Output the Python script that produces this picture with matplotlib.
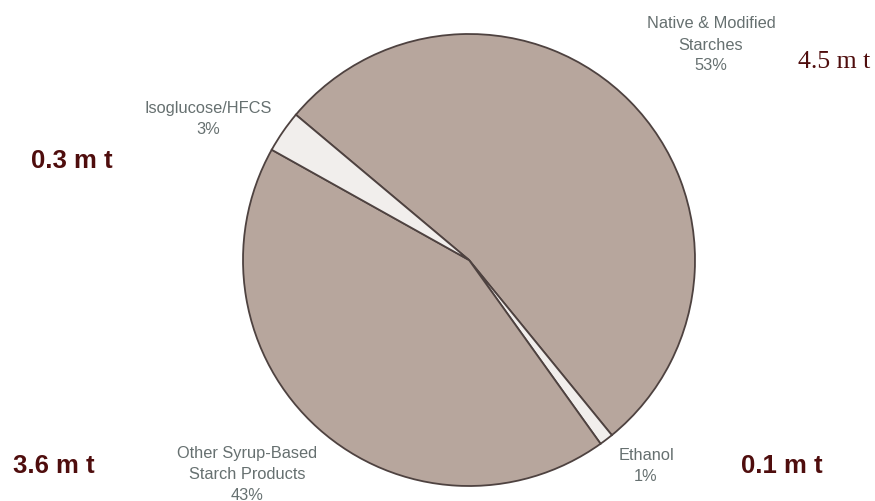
import matplotlib
matplotlib.use("Agg")
import matplotlib.pyplot as plt

categories = ["Native & Modified\nStarches", "Ethanol", "Other Syrup-Based\nStarch Products", "Isoglucose/HFCS"]
shares = [53, 1, 43, 3]
tonnage = ["4.5 m t", "0.1 m t", "3.6 m t", "0.3 m t"]

W, H = 875, 502
fig = plt.figure(figsize=(W / 100, H / 100), dpi=100)
ax = fig.add_axes([0, 0, 1, 1])

fill = "#b7a69d"
light = "#f1eeec"
colors = [fill, light, fill, light]
ax.pie(shares, colors=colors, startangle=140, counterclock=False,
       center=(469, H - 261), radius=226, frame=True,
       wedgeprops=dict(edgecolor="#4e4240", linewidth=1.3))
ax.set_xlim(0, W)
ax.set_ylim(0, H)
ax.set_aspect("equal")
ax.axis("off")

label_color = "#667070"
lab_pos = [(711, 45), (646, 466), (247, 475), (208, 119)]
for cat, s, (x, y) in zip(categories, shares, lab_pos):
    ax.text(x, H - y, f"{cat}\n{s}%", ha="center", va="center",
            fontsize=11.8, family="Liberation Sans", color=label_color,
            linespacing=1.5)

mt_color = "#4f0d0d"
mt_pos = [(834, 62), (782, 466), (54, 466), (72, 161)]
for i, (t, (x, y)) in enumerate(zip(tonnage, mt_pos)):
    if i == 0:
        ax.text(x, H - y, t, ha="center", va="center", fontsize=18.5,
                family="Liberation Serif", color=mt_color)
    else:
        ax.text(x, H - y, t, ha="center", va="center", fontsize=18.5,
                family="Liberation Sans", fontweight="bold", color=mt_color)

fig.savefig("out.png", dpi=100)
